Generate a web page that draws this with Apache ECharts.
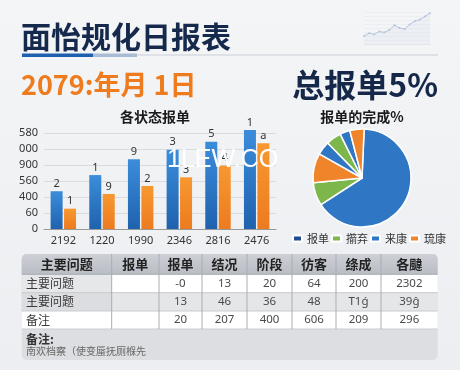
<!DOCTYPE html>
<html><head><meta charset="utf-8">
<script src="https://cdn.jsdelivr.net/npm/echarts@6/dist/echarts.min.js"></script>
<style>html,body{margin:0;padding:0;background:#f1f2f4}#c{width:460px;height:370px}</style>
</head><body><div id="c"></div>
<script>
// ---- data ----
const pageTitle = '面怡规化日报表';
const dateText = '2079:年月 1日';
const kpiText = '总报单5%';
const barTitle = '各状态报单';
const pieTitle = '报单的完成%';
const categories = ['2192', '1220', '1990', '2346', '2816', '2476'];
const blueValues = [236, 337, 436, 496, 546, 619];
const orangeValues = [127, 219, 269, 323, 396, 536];
const blueLabels = ['2', '1', '9', '3', '5', '1'];
const orangeLabels = ['1', '9', '2', '3', '4', 'a'];
const yTickLabels = ['0', '60', '400', '560', '900', '000', '580'];
const pieNames = ['报单', '擶弃', '琉康', '来康', '擶弃', '来康', '琉康'];
const pieValues = [65, 7.6, 9.7, 4.5, 5, 3.3, 4.7];
const legendNames = ['报单', '擶弃', '来康', '琉康'];
const sparkValues = [20, 27, 24, 31, 29, 35, 47, 40, 37, 49, 57, 61, 69, 77];
const tableHeader = ['主要问题', '报单', '报单', '结况', '阶段', '彷客', '绦成', '各颹'];
const tableRowLabels = ['主要问题', '主要问题', '备注'];
const tableRows = [
  ['', '-0', '13', '20', '64', '200', '2302'],
  ['', '13', '46', '36', '48', 'T1ǵ', '39ĝ'],
  ['', '20', '207', '400', '606', '209', '296']
];
const noteTitle = '备注:';
const noteText = '南欢档察（使变蜃抚厕椺先';
const watermark = '1LEW.CO';

// ---- style / layout ----
const CJK = '"Noto Sans CJK SC", "Noto Sans", sans-serif';
const NUM = '"Noto Sans", "Open Sans", sans-serif';
const sliceColors = { '报单': '#2f76c4', '擶弃': '#7db64a', '来康': '#2f76c4', '琉康': '#f0842b' };
const legendColors = { '报单': '#1f4d8f', '擶弃': '#7db64a', '来康': '#2f76c4', '琉康': '#f0842b' };
const colX = [21.7, 111.7, 159, 202, 247, 292, 336, 381, 437.7];
const rowY = [254, 274.3, 292.7, 311, 329];
const noteBottom = 360;

const g = [];
// header texts
g.push({ type: 'text', x: 21, y: 37, style: { text: pageTitle, font: 'bold 30px ' + CJK, fill: '#15294d', textVerticalAlign: 'middle' } });
g.push({ type: 'line', shape: { x1: 22, y1: 55, x2: 438, y2: 55 }, style: { stroke: '#c9cdd4', lineWidth: 1 } });
g.push({ type: 'rect', shape: { x: 22, y: 53.5, width: 71, height: 3.5 }, style: { fill: '#1f5fb0' } });
g.push({ type: 'rect', shape: { x: 93, y: 53.5, width: 44, height: 3.5 }, style: { fill: '#a9bcd6' } });
g.push({ type: 'text', x: 21, y: 85, style: { text: dateText, font: 'bold 27px ' + CJK, fill: '#ee7b1d', textVerticalAlign: 'middle' } });
g.push({ type: 'text', x: 438, y: 85, style: { text: kpiText, font: 'bold 32px ' + CJK, fill: '#15284a', textAlign: 'right', textVerticalAlign: 'middle' } });
g.push({ type: 'text', x: 155, y: 117, style: { text: barTitle, font: 'bold 14px ' + CJK, fill: '#1a1a1a', textAlign: 'center', textVerticalAlign: 'middle' } });
g.push({ type: 'text', x: 362, y: 117, style: { text: pieTitle, font: 'bold 14px ' + CJK, fill: '#1a1a1a', textAlign: 'center', textVerticalAlign: 'middle' } });

// table
const tL = colX[0], tR = colX[colX.length - 1];
g.push({ type: 'rect', shape: { x: tL, y: rowY[0], width: tR - tL, height: noteBottom - rowY[0], r: 5 }, style: { fill: '#dddee1' } });
g.push({ type: 'rect', shape: { x: tL, y: rowY[0], width: tR - tL, height: rowY[1] - rowY[0], r: [5, 5, 0, 0] },
  style: { fill: new echarts.graphic.LinearGradient(0, 0, 0, 1, [{ offset: 0, color: '#cdd0d5' }, { offset: 1, color: '#b9bdc4' }]) } });
const rowFills = [['#e6e7e9', '#ffffff'], ['#dcdde0', '#e5e6e8'], ['#ffffff', '#ffffff']];
for (let r = 0; r < 3; r++) {
  g.push({ type: 'rect', shape: { x: tL, y: rowY[r + 1], width: colX[1] - tL, height: rowY[r + 2] - rowY[r + 1] }, style: { fill: rowFills[r][0] } });
  g.push({ type: 'rect', shape: { x: colX[1], y: rowY[r + 1], width: tR - colX[1], height: rowY[r + 2] - rowY[r + 1] }, style: { fill: rowFills[r][1] } });
}
for (let r = 2; r <= 4; r++) {
  g.push({ type: 'line', shape: { x1: tL, y1: rowY[r], x2: tR, y2: rowY[r] }, style: { stroke: '#c9cbd0', lineWidth: 1 } });
}
g.push({ type: 'line', shape: { x1: tL, y1: rowY[1], x2: tR, y2: rowY[1] }, style: { stroke: '#a6aab1', lineWidth: 1 } });
for (let c = 1; c < colX.length - 1; c++) {
  g.push({ type: 'line', shape: { x1: colX[c], y1: rowY[0], x2: colX[c], y2: rowY[4] }, style: { stroke: '#a9adb4', lineWidth: 1 } });
}
tableHeader.forEach((h, c) => {
  g.push({ type: 'text', x: (colX[c] + colX[c + 1]) / 2, y: (rowY[0] + rowY[1]) / 2, style: { text: h, font: 'bold 13px ' + CJK, fill: '#222', textAlign: 'center', textVerticalAlign: 'middle' } });
});
tableRowLabels.forEach((lab, r) => {
  const cy = (rowY[r + 1] + rowY[r + 2]) / 2;
  g.push({ type: 'text', x: 26, y: cy, style: { text: lab, font: '12px ' + CJK, fill: '#3a3a3a', textVerticalAlign: 'middle' } });
  tableRows[r].forEach((v, c) => {
    g.push({ type: 'text', x: (colX[c + 1] + colX[c + 2]) / 2, y: cy, style: { text: v, font: '11.5px ' + NUM, fill: '#4a4a4a', textAlign: 'center', textVerticalAlign: 'middle' } });
  });
});
g.push({ type: 'text', x: 26, y: 339, style: { text: noteTitle, font: 'bold 12px ' + CJK, fill: '#333', textVerticalAlign: 'middle' } });
g.push({ type: 'text', x: 26, y: 351, style: { text: noteText, font: '10px ' + CJK, fill: '#666', textVerticalAlign: 'middle' } });

// watermark
g.push({ type: 'text', x: 167, y: 160, z: 100, zlevel: 1, style: { text: watermark, font: '25px "Liberation Sans", sans-serif', fill: '#ffffff', textVerticalAlign: 'middle' } });

const chart = echarts.init(document.getElementById('c'), null, { renderer: 'canvas' });
chart.setOption({
  backgroundColor: new echarts.graphic.LinearGradient(0, 0, 0, 1, [{ offset: 0, color: '#f4f5f7' }, { offset: 1, color: '#eceef1' }]),
  animation: false,
  textStyle: { fontFamily: CJK },
  graphic: g,
  legend: {
    left: 292, top: 233, padding: 0, itemWidth: 9, itemHeight: 6, itemGap: 2, icon: 'rect',
    textStyle: { fontSize: 11, color: '#333' },
    data: legendNames.map(n => ({ name: n, itemStyle: { color: legendColors[n] } }))
  },
  grid: [
    { left: 44, top: 133, width: 232, height: 96 },
    { left: 364, top: 12, width: 66, height: 32 }
  ],
  xAxis: [
    { gridIndex: 0, type: 'category', data: categories,
      axisLine: { lineStyle: { color: '#9a9a9a' } }, axisTick: { show: false },
      axisLabel: { fontSize: 11, color: '#333', margin: 6, fontFamily: NUM } },
    { gridIndex: 1, type: 'category', data: sparkValues.map((v, i) => String(i)), boundaryGap: false,
      axisLine: { lineStyle: { color: '#e2e5ea' } }, axisTick: { show: false }, axisLabel: { show: false } }
  ],
  yAxis: [
    { gridIndex: 0, type: 'value', min: 0, max: 600, interval: 100,
      axisLabel: { fontSize: 11, color: '#333', margin: 6, fontFamily: NUM,
        formatter: v => yTickLabels[Math.round(v / 100)] },
      splitLine: { lineStyle: { color: '#d9dbdf' } }, axisLine: { show: false }, axisTick: { show: false } },
    { gridIndex: 1, type: 'value', min: 0, max: 80, interval: 10, axisLabel: { show: false },
      splitLine: { lineStyle: { color: '#eceef2' } } }
  ],
  series: [
    { type: 'bar', xAxisIndex: 0, yAxisIndex: 0, data: blueValues, barWidth: 12, barGap: '12%', clip: false,
      itemStyle: { color: new echarts.graphic.LinearGradient(0, 0, 0, 1, [{ offset: 0, color: '#3b8ddb' }, { offset: 1, color: '#1f62ae' }]) },
      label: { show: true, position: 'top', distance: 2, fontSize: 11, color: '#333', fontFamily: NUM, formatter: p => blueLabels[p.dataIndex] } },
    { type: 'bar', xAxisIndex: 0, yAxisIndex: 0, data: orangeValues, barWidth: 12, clip: false,
      itemStyle: { color: new echarts.graphic.LinearGradient(0, 0, 0, 1, [{ offset: 0, color: '#f89830' }, { offset: 1, color: '#ec7b20' }]) },
      label: { show: true, position: 'top', distance: 2, fontSize: 11, color: '#333', fontFamily: NUM, formatter: p => orangeLabels[p.dataIndex] } },
    { type: 'line', xAxisIndex: 1, yAxisIndex: 1, data: sparkValues, symbol: 'circle', symbolSize: 2,
      lineStyle: { color: '#b7c6dc', width: 1 }, itemStyle: { color: '#b7c6dc' },
      areaStyle: { color: 'rgba(210,220,236,0.3)' } },
    { type: 'pie', center: [362, 178], radius: 49, startAngle: 87.5, label: { show: false }, labelLine: { show: false },
      itemStyle: { borderColor: '#ffffff', borderWidth: 1.5 },
      data: pieNames.map((n, i) => ({ name: n, value: pieValues[i], itemStyle: { color: sliceColors[n] } })) }
  ]
});
</script>
</body></html>
